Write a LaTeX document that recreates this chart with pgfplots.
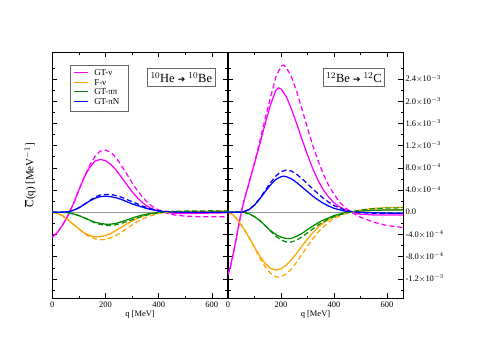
\documentclass[border=0pt]{standalone}
\usepackage{pgfplots}
\pgfplotsset{compat=1.18}
\usepackage{fontspec}
\setmainfont{Liberation Serif}
\newfontfamily\dejavu{DejaVu Sans}
\definecolor{cmag}{RGB}{255,0,255}
\definecolor{corange}{RGB}{255,165,0}
\definecolor{cgreen}{RGB}{0,140,0}
\definecolor{cblue}{RGB}{0,0,255}
\definecolor{cgray}{RGB}{150,150,150}
\newcommand{\thickarrow}{\raisebox{0.5pt}{{\dejavu\fontsize{9}{9}\selectfont ➔}}}
\pgfplotsset{
  panel/.style={
    scale only axis, width=175.5bp, height=246bp,
    xmin=0, xmax=660, ymin=-15.5, ymax=28.8,
    xtick={0,200,400,600}, minor xtick={100,300,500},
    ytick={-12,-8,-4,0,4,8,12,16,20,24},
    minor ytick={-14,-10,-6,-2,2,6,10,14,18,22,26},
    tick align=inside, major tick length=5bp, minor tick length=2.5bp,
    tick style={black, line width=0.5pt},
    axis line style={line width=0.6pt},
    tick label style={font=\fontsize{8.5}{9}\selectfont},
    /pgf/number format/assume math mode=true,
    xlabel={q [MeV]},
    xlabel style={font=\fontsize{8.5}{9}\selectfont, yshift=4bp},
    clip=true,
  },
  sol/.style={line width=1.25pt},
  dsh/.style={line width=1.25pt, dash pattern=on 5bp off 3bp},
}
\begin{document}
\begin{tikzpicture}
\path[use as bounding box] (0,0) rectangle (485bp,342bp);
% ---------- left panel ----------
\begin{axis}[panel, at={(52.3bp,43.7bp)}, anchor=south west,
  yticklabels={}, ytick pos=both, xtick pos=both,
  ylabel={$\overline{\hbox{C}}$(q) [MeV$^{-1}$]},
  ylabel style={font=\fontsize{11}{12}\selectfont, at={(axis description cs:-0.127,0.50)}, anchor=center},
]
\addplot[cgray, line width=1.4pt] coordinates {(0,0) (660,0)};
\addplot[cmag, sol] coordinates {
(0,-4.5) (20,-3.6) (40,-2.2) (60,-0.5) (80,1.6) (100,4.0) (120,6.3) (140,8.0) (160,9.2) (180,9.5) (200,9.3) (220,8.6) (240,7.6) (260,6.3) (280,5.0) (300,3.7) (320,2.6) (340,1.7) (360,1.0) (380,0.5) (400,0.2) (420,0.0) (440,-0.1) (460,-0.2) (500,-0.25) (550,-0.2) (600,-0.15) (660,-0.1)};
\addplot[corange, sol] coordinates {
(0,0) (20,-0.2) (40,-0.7) (60,-1.4) (80,-2.2) (100,-3.0) (120,-3.7) (140,-4.2) (160,-4.4) (180,-4.4) (200,-4.2) (220,-3.8) (240,-3.3) (260,-2.7) (280,-2.1) (300,-1.6) (320,-1.1) (340,-0.7) (360,-0.4) (380,-0.2) (400,-0.1) (440,0.05) (500,0.1) (600,0.1) (660,0.1)};
\addplot[cgreen, sol] coordinates {
(0,0) (40,0) (60,-0.1) (80,-0.3) (100,-0.6) (120,-1.0) (140,-1.4) (160,-1.8) (180,-2.0) (200,-2.15) (220,-2.15) (240,-2.0) (260,-1.7) (280,-1.4) (300,-1.05) (320,-0.75) (340,-0.5) (360,-0.3) (380,-0.15) (400,-0.05) (440,0.1) (500,0.15) (600,0.15) (660,0.1)};
\addplot[cblue, sol] coordinates {
(0,0) (40,0) (60,0.1) (80,0.35) (100,0.8) (120,1.4) (140,2.0) (160,2.5) (180,2.8) (200,2.9) (220,2.8) (240,2.6) (260,2.3) (280,1.9) (300,1.5) (320,1.2) (340,0.9) (360,0.6) (380,0.4) (400,0.2) (440,0.05) (500,0) (660,0)};
\addplot[cmag, dsh] coordinates {
(0,-4.5) (20,-3.6) (40,-2.2) (60,-0.5) (80,1.6) (100,4.0) (120,6.3) (140,8.4) (160,10.0) (180,11.0) (200,11.2) (220,10.8) (240,9.8) (260,8.4) (280,6.9) (300,5.3) (320,3.9) (340,2.7) (360,1.7) (380,0.9) (400,0.4) (420,0.0) (440,-0.3) (460,-0.5) (500,-0.7) (550,-0.8) (600,-0.8) (660,-0.8)};
\addplot[corange, dsh] coordinates {
(0,0) (20,-0.2) (40,-0.7) (60,-1.4) (80,-2.2) (100,-3.0) (120,-3.8) (140,-4.4) (160,-4.8) (180,-4.95) (200,-4.9) (220,-4.6) (240,-4.2) (260,-3.6) (280,-2.9) (300,-2.3) (320,-1.7) (340,-1.2) (360,-0.8) (380,-0.5) (400,-0.2) (420,-0.05) (440,0.05) (500,0.15) (600,0.2) (660,0.2)};
\addplot[cgreen, dsh] coordinates {
(0,0) (40,0) (60,-0.1) (80,-0.3) (100,-0.6) (120,-1.0) (140,-1.5) (160,-1.9) (180,-2.2) (200,-2.35) (220,-2.4) (240,-2.25) (260,-2.0) (280,-1.7) (300,-1.35) (320,-1.0) (340,-0.7) (360,-0.45) (380,-0.25) (400,-0.1) (440,0.1) (500,0.2) (600,0.25) (660,0.2)};
\addplot[cblue, dsh] coordinates {
(0,0) (40,0) (60,0.1) (80,0.35) (100,0.8) (120,1.4) (140,2.1) (160,2.7) (180,3.1) (200,3.2) (220,3.2) (240,3.0) (260,2.7) (280,2.3) (300,1.9) (320,1.5) (340,1.1) (360,0.8) (380,0.5) (400,0.3) (440,0.1) (500,0) (660,0)};
% legend (drawn with TikZ paths so that the colours hold)
\filldraw[fill=white, draw=black!60, line width=0.7pt] (rel axis cs:0.101,0.761) rectangle (rel axis cs:0.431,0.948);
\draw[cmag, line width=1.2pt] (rel axis cs:0.122,0.917) -- (rel axis cs:0.205,0.917);
\draw[corange, line width=1.2pt] (rel axis cs:0.122,0.878) -- (rel axis cs:0.205,0.878);
\draw[cgreen, line width=1.2pt] (rel axis cs:0.122,0.839) -- (rel axis cs:0.205,0.839);
\draw[cblue, line width=1.2pt] (rel axis cs:0.122,0.800) -- (rel axis cs:0.205,0.800);
\begin{scope}[every node/.style={anchor=west, inner sep=0pt, font=\fontsize{9}{10}\selectfont}]
\node at (rel axis cs:0.238,0.917) {GT-ν};
\node at (rel axis cs:0.238,0.878) {F-ν};
\node at (rel axis cs:0.238,0.839) {GT-ππ};
\node at (rel axis cs:0.238,0.800) {GT-πN};
\end{scope}
\node[draw=black!60, line width=0.7pt, fill=white, inner xsep=3pt, inner ysep=4pt, font=\fontsize{12.5}{13}\selectfont]
  at (rel axis cs:0.735,0.897) {$^{10}$He \thickarrow\ $^{10}$Be};
\end{axis}
% ---------- right panel ----------
\begin{axis}[panel, at={(228bp,43.7bp)}, anchor=south west, width=175bp,
  yticklabel pos=right, ytick pos=both, xtick pos=both,
  yticklabels={-1.2$\times$10$^{-3}$,-8.0$\times$10$^{-4}$,-4.0$\times$10$^{-4}$,0.0,4.0$\times$10$^{-4}$,8.0$\times$10$^{-4}$,1.2$\times$10$^{-3}$,1.6$\times$10$^{-3}$,2.0$\times$10$^{-3}$,2.4$\times$10$^{-3}$},
  yticklabel style={font=\fontsize{8.5}{9}\selectfont, anchor=west, xshift=-1bp},
]
\addplot[cgray, line width=1.4pt] coordinates {(0,0) (660,0)};
\addplot[cmag, sol] coordinates {
(0,-11.3) (10,-9.6) (20,-7.4) (30,-5.0) (40,-2.5) (50,0) (60,2.0) (80,5.4) (100,8.8) (120,12.3) (140,15.9) (160,19.3) (180,21.9) (190,22.4) (200,22.2) (220,20.8) (240,18.5) (260,15.8) (280,13.0) (300,10.3) (320,7.8) (340,5.7) (360,4.0) (380,2.7) (400,1.7) (420,1.0) (440,0.5) (460,0.1) (480,-0.2) (500,-0.35) (550,-0.5) (600,-0.5) (660,-0.5)};
\addplot[corange, sol] coordinates {
(0,0) (20,-0.5) (40,-1.6) (60,-3.0) (80,-4.6) (100,-6.3) (120,-7.9) (140,-9.2) (160,-10.1) (180,-10.4) (200,-10.2) (220,-9.5) (240,-8.5) (260,-7.3) (280,-6.0) (300,-4.8) (320,-3.7) (340,-2.7) (360,-1.9) (380,-1.3) (400,-0.8) (440,-0.2) (480,0.1) (500,0.2) (550,0.35) (600,0.4) (660,0.45)};
\addplot[cgreen, sol] coordinates {
(0,0) (40,0.05) (60,0) (80,-0.3) (100,-0.8) (120,-1.5) (140,-2.4) (160,-3.3) (180,-4.0) (200,-4.5) (220,-4.75) (240,-4.7) (260,-4.3) (280,-3.8) (300,-3.1) (320,-2.5) (340,-1.9) (360,-1.4) (380,-1.0) (400,-0.6) (440,-0.1) (480,0.15) (500,0.25) (550,0.35) (600,0.4) (660,0.4)};
\addplot[cblue, sol] coordinates {
(0,0) (40,0) (60,0.1) (80,0.5) (100,1.3) (120,2.4) (140,3.7) (160,4.9) (180,5.9) (200,6.4) (210,6.5) (220,6.4) (240,6.0) (260,5.3) (280,4.5) (300,3.7) (320,2.9) (340,2.2) (360,1.6) (380,1.1) (400,0.7) (440,0.2) (480,0.05) (500,0) (550,-0.1) (660,-0.2)};
\addplot[cmag, dsh] coordinates {
(0,-11.3) (10,-9.6) (20,-7.4) (30,-5.0) (40,-2.5) (50,0) (60,2.0) (80,5.4) (100,8.9) (120,12.8) (140,16.8) (160,20.6) (180,24.3) (200,26.3) (210,26.5) (220,26.1) (240,24.3) (260,21.6) (280,18.4) (300,15.1) (320,12.0) (340,9.2) (360,6.8) (380,4.8) (400,3.2) (420,1.9) (440,0.9) (460,0.2) (480,-0.4) (500,-0.9) (550,-1.8) (600,-2.4) (660,-2.75)};
\addplot[corange, dsh] coordinates {
(0,0) (20,-0.5) (40,-1.6) (60,-3.0) (80,-4.6) (100,-6.4) (120,-8.2) (140,-9.8) (160,-11.0) (180,-11.6) (190,-11.7) (200,-11.6) (220,-11.1) (240,-10.2) (260,-8.9) (280,-7.5) (300,-6.1) (320,-4.8) (340,-3.6) (360,-2.6) (380,-1.8) (400,-1.1) (440,-0.3) (480,0.2) (500,0.4) (550,0.7) (600,0.85) (660,0.9)};
\addplot[cgreen, dsh] coordinates {
(0,0) (40,0.05) (60,0) (80,-0.3) (100,-0.8) (120,-1.5) (140,-2.4) (160,-3.4) (180,-4.3) (200,-5.0) (220,-5.35) (240,-5.35) (260,-5.0) (280,-4.4) (300,-3.7) (320,-3.0) (340,-2.3) (360,-1.7) (380,-1.2) (400,-0.8) (440,-0.2) (480,0.2) (500,0.4) (550,0.65) (600,0.75) (660,0.8)};
\addplot[cblue, dsh] coordinates {
(0,0) (40,0) (60,0.1) (80,0.5) (100,1.3) (120,2.5) (140,3.9) (160,5.3) (180,6.5) (200,7.3) (220,7.6) (240,7.4) (260,6.8) (280,6.0) (300,5.1) (320,4.2) (340,3.3) (360,2.5) (380,1.8) (400,1.2) (440,0.4) (480,0) (500,-0.1) (550,-0.2) (660,-0.2)};
\node[draw=black!60, line width=0.7pt, fill=white, inner xsep=3pt, inner ysep=4pt, font=\fontsize{12.5}{13}\selectfont]
  at (rel axis cs:0.72,0.897) {$^{12}$Be \thickarrow\ $^{12}$C};
\end{axis}
\end{tikzpicture}
\end{document}
